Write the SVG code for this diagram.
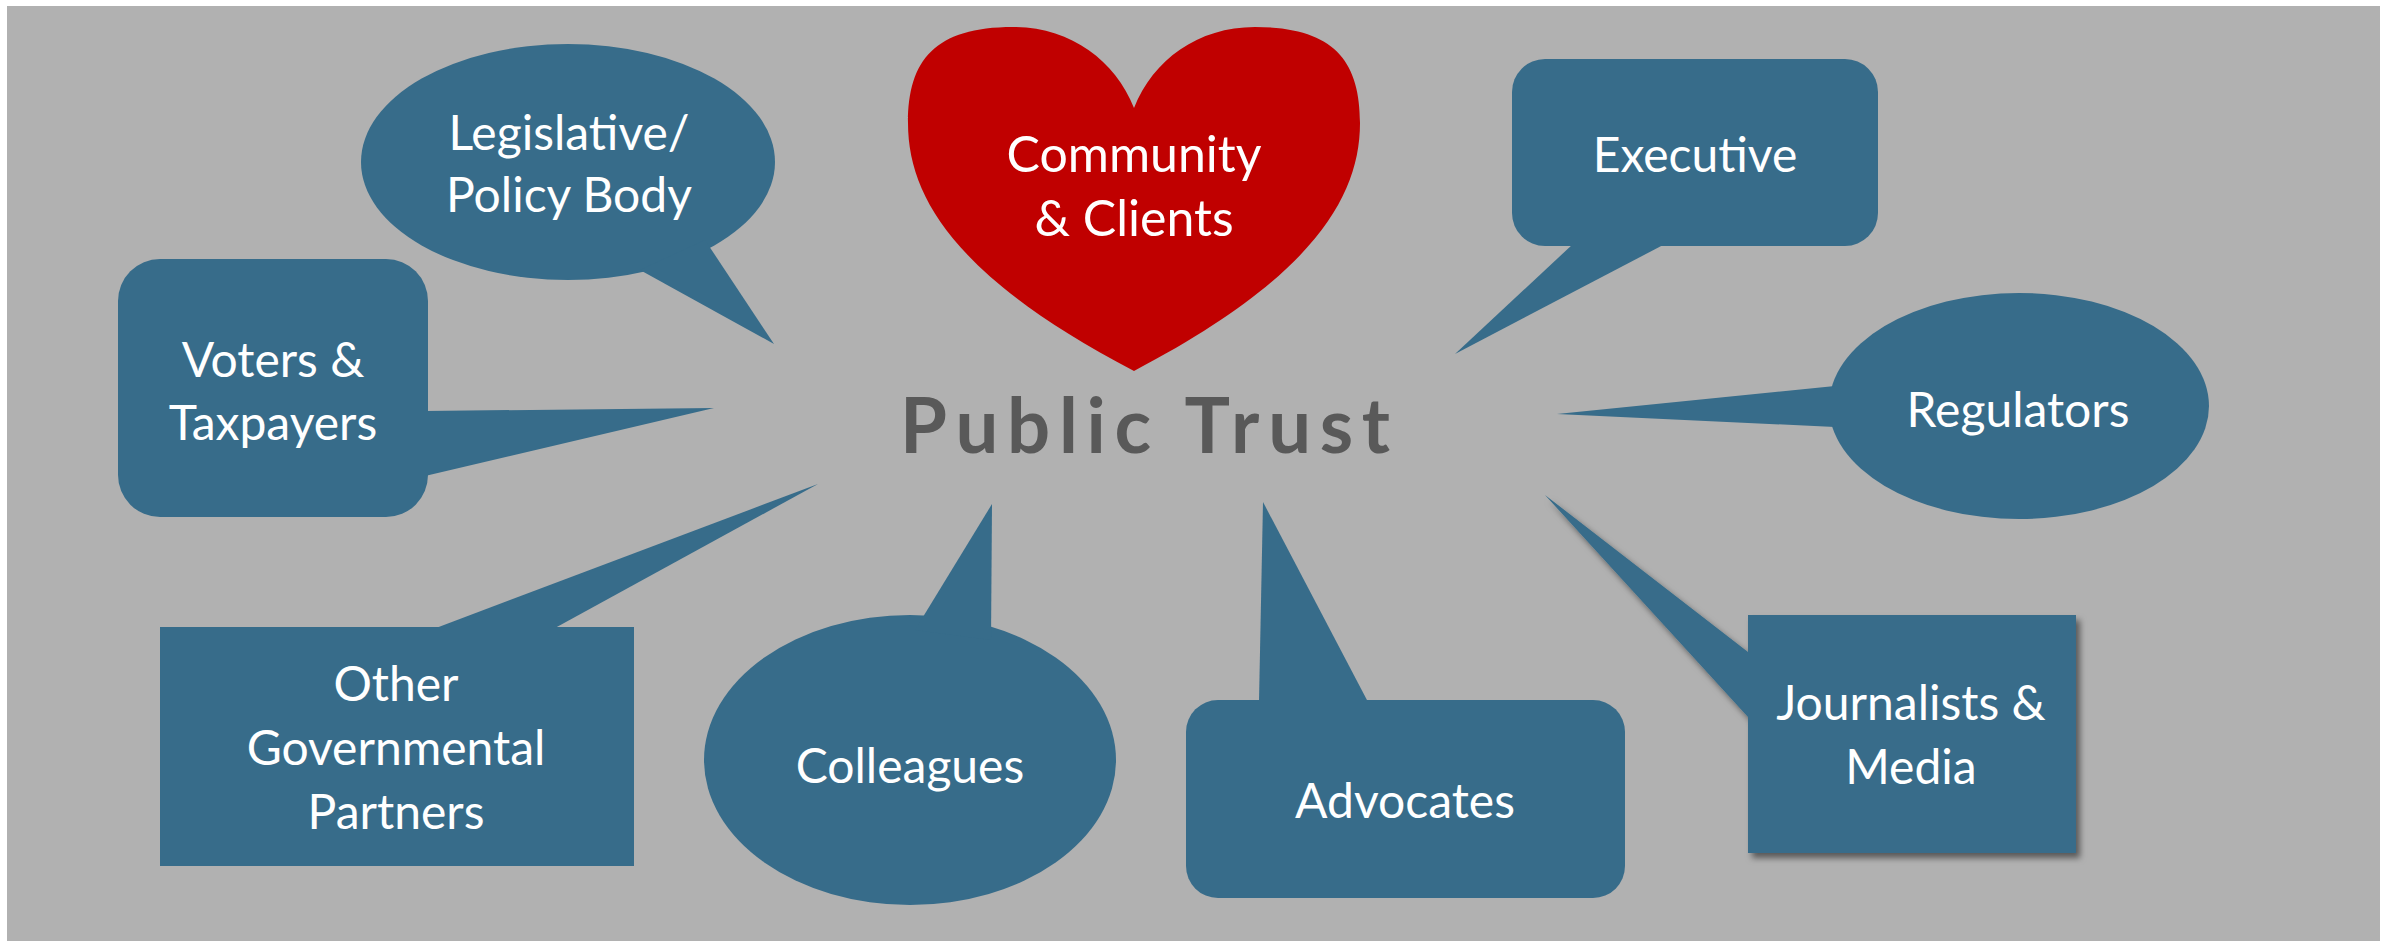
<svg xmlns="http://www.w3.org/2000/svg" width="2391" height="941" viewBox="0 0 2391 941">
<defs>
<style>
.n{fill:#376C8A;}
.t{font-family:Lato,"Open Sans","Liberation Sans",sans-serif;font-size:48px;fill:#FFFFFF;text-anchor:middle;}
.h{font-size:50px;}
.pt{font-family:Lato,"Open Sans","Liberation Sans",sans-serif;font-size:76px;font-weight:bold;fill:#595959;}
</style>
<filter id="sh" x="-10%" y="-10%" width="130%" height="130%">
<feDropShadow dx="4" dy="5" stdDeviation="3" flood-color="#000" flood-opacity="0.5"/>
</filter>
</defs>
<rect x="0" y="0" width="2391" height="941" fill="#FFFFFF"/>
<rect x="7" y="6" width="2373" height="935" fill="#B1B1B1"/>
<g id="connectors"></g>
<g id="legislative">
<ellipse class="n" cx="568" cy="162" rx="207" ry="118"/>
<polygon class="n" points="705,240 774,344 640,270"/>
<text class="t" x="569" y="150">Legislative/</text>
<text class="t" x="569" y="212">Policy Body</text>
</g>
<g id="voters">
<rect class="n" x="118" y="259" width="310" height="258" rx="42" ry="42"/>
<polygon class="n" points="425,411 714,408 425,476"/>
<text class="t" x="273" y="377">Voters &amp;</text>
<text class="t" x="273" y="440">Taxpayers</text>
</g>
<g id="other">
<rect class="n" x="160" y="627" width="474" height="239"/>
<polygon class="n" points="436,628 818,484 555,628"/>
<text class="t" x="396" y="701">Other</text>
<text class="t" x="396" y="765">Governmental</text>
<text class="t" x="396" y="829">Partners</text>
</g>
<g id="community">
<path fill="#C00000" d="M1134,108 C1115,60 1070,27 1013,27 C935,27 908,60 908,123 C908,200 960,280 1134,371 C1308,280 1360,200 1360,123 C1360,60 1333,27 1255,27 C1198,27 1153,60 1134,108 Z"/>
<text class="t h" x="1134" y="172">Community</text>
<text class="t h" x="1134" y="236">&amp; Clients</text>
</g>
<g id="public-trust">
<text class="pt" x="900" y="453" textLength="490" lengthAdjust="spacing">Public Trust</text>
</g>
<g id="executive">
<rect class="n" x="1512" y="59" width="366" height="187" rx="33" ry="33"/>
<polygon class="n" points="1573,244 1455,354 1665,244"/>
<text class="t" x="1695" y="172">Executive</text>
</g>
<g id="regulators">
<ellipse class="n" cx="2019" cy="406" rx="190" ry="113"/>
<polygon class="n" points="1835,386 1557,414 1835,427"/>
<text class="t" x="2018" y="427">Regulators</text>
</g>
<g id="journalists">
<path class="n" filter="url(#sh)" d="M1748,615 H2076 V853 H1748 V717 L1545,495 L1748,652 Z"/>
<text class="t" x="1911" y="720">Journalists &amp;</text>
<text class="t" x="1911" y="784">Media</text>
</g>
<g id="colleagues">
<ellipse class="n" cx="910" cy="760" rx="206" ry="145"/>
<polygon class="n" points="915,630 992,504 991,640"/>
<text class="t" x="910" y="783">Colleagues</text>
</g>
<g id="advocates">
<rect class="n" x="1186" y="700" width="439" height="198" rx="32" ry="32"/>
<polygon class="n" points="1259,702 1263,502 1368,702"/>
<text class="t" x="1405" y="818">Advocates</text>
</g>
</svg>
